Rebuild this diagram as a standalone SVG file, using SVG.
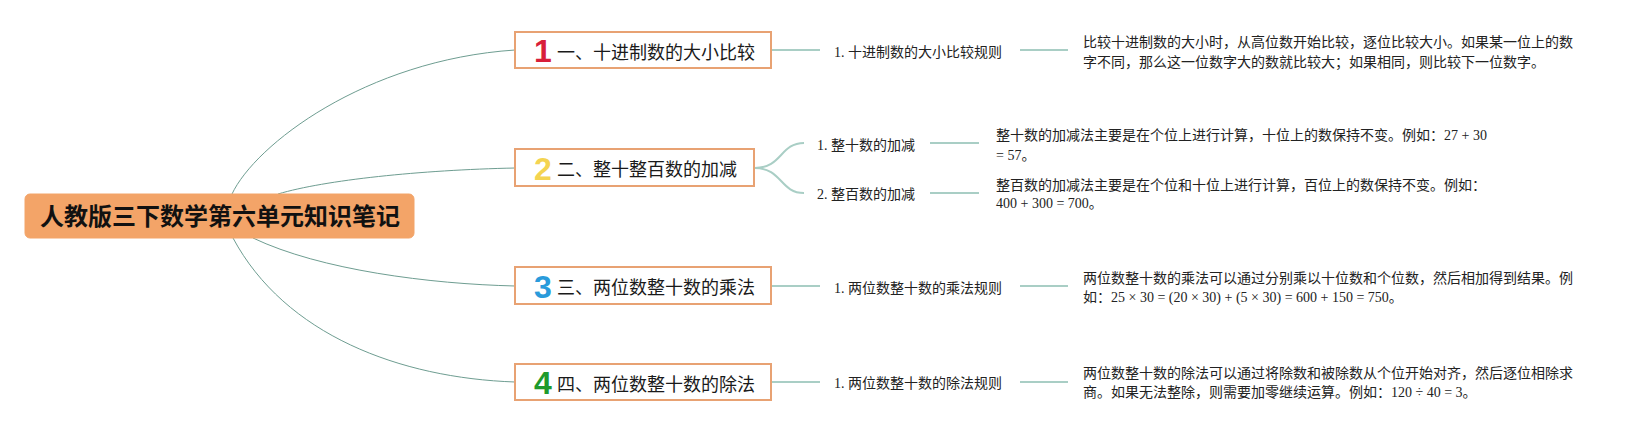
<svg xmlns="http://www.w3.org/2000/svg" width="1643" height="432" viewBox="0 0 1643 432">
<style>
.bg{fill:#ffffff}
.root{fill:#F3A468;stroke:#F3A468}
.roottxt{font-family:"Noto Sans CJK SC",sans-serif;font-weight:bold;font-size:24px;fill:#111}
.node{fill:#ffffff;stroke:#E8A273;stroke-width:2}
.ntxt{font-family:"Noto Sans CJK SC",sans-serif;font-size:18px;fill:#1a1a1a}
.num{font-family:"Liberation Sans","Noto Sans",sans-serif;font-weight:bold;font-size:32px;text-anchor:middle}
.sub{font-family:"Liberation Serif","Noto Sans CJK SC",serif;font-size:14px;fill:#222}
.body{font-family:"Liberation Serif","Noto Sans CJK SC",serif;font-size:14px;fill:#222}
.c1{fill:none;stroke:#6E9D91;stroke-width:1}
.c2{fill:none;stroke:#A9CEC5;stroke-width:2}
</style>
<rect class="bg" x="0" y="0" width="1643" height="432"/>
<g id="connectors">
<path class="c1" d="M232,194 C255,145 365,60 515,50"/>
<path class="c1" d="M278,194 C325,180 420,170 515,168"/>
<path class="c1" d="M253,238 C320,270 430,284 515,286"/>
<path class="c1" d="M233,238 C285,335 400,378 515,382"/>
<path class="c2" d="M772,50 H820"/>
<path class="c2" d="M1020,50 H1068"/>
<path class="c2" d="M755,168 C782,168 780,143 804,143"/>
<path class="c2" d="M755,168 C782,168 780,193 804,193"/>
<path class="c2" d="M930,143 H979"/>
<path class="c2" d="M930,193 H979"/>
<path class="c2" d="M772,286 H820"/>
<path class="c2" d="M1020,286 H1068"/>
<path class="c2" d="M772,382 H820"/>
<path class="c2" d="M1020,382 H1068"/>
</g>
<g id="root">
<rect class="root" x="25" y="194" width="389" height="44" rx="5"/>
<text class="roottxt" x="220" y="225" text-anchor="middle">人教版三下数学第六单元知识笔记</text>
</g>
<g id="n1">
<rect class="node" x="515" y="32" width="256" height="36"/>
<text class="num" x="543" y="62" fill="#D81F3A">1</text>
<text class="ntxt" x="557" y="58.5">一、十进制数的大小比较</text>
</g>
<g id="n1s">
<text class="sub" x="834" y="57">1. 十进制数的大小比较规则</text>
</g>
<g id="n1t">
<text class="body" x="1083" y="47">比较十进制数的大小时，从高位数开始比较，逐位比较大小。如果某一位上的数</text>
<text class="body" x="1083" y="67">字不同，那么这一位数字大的数就比较大；如果相同，则比较下一位数字。</text>
</g>
<g id="n2">
<rect class="node" x="515" y="149" width="239" height="37"/>
<text class="num" x="543" y="180" fill="#F4D451">2</text>
<text class="ntxt" x="557" y="176">二、整十整百数的加减</text>
</g>
<g id="n2s1">
<text class="sub" x="817" y="150">1. 整十数的加减</text>
</g>
<g id="n2t1">
<text class="body" x="996" y="140">整十数的加减法主要是在个位上进行计算，十位上的数保持不变。例如：27 + 30</text>
<text class="body" x="996" y="160">= 57。</text>
</g>
<g id="n2s2">
<text class="sub" x="817" y="199">2. 整百数的加减</text>
</g>
<g id="n2t2">
<text class="body" x="996" y="190">整百数的加减法主要是在个位和十位上进行计算，百位上的数保持不变。例如：</text>
<text class="body" x="996" y="208">400 + 300 = 700。</text>
</g>
<g id="n3">
<rect class="node" x="515" y="267" width="256" height="37"/>
<text class="num" x="543" y="298" fill="#2A9BDB">3</text>
<text class="ntxt" x="557" y="294">三、两位数整十数的乘法</text>
</g>
<g id="n3s">
<text class="sub" x="834" y="293">1. 两位数整十数的乘法规则</text>
</g>
<g id="n3t">
<text class="body" x="1083" y="283">两位数整十数的乘法可以通过分别乘以十位数和个位数，然后相加得到结果。例</text>
<text class="body" x="1083" y="302">如：25 × 30 = (20 × 30) + (5 × 30) = 600 + 150 = 750。</text>
</g>
<g id="n4">
<rect class="node" x="515" y="364" width="256" height="36"/>
<text class="num" x="543" y="394" fill="#1F9A2C">4</text>
<text class="ntxt" x="557" y="390.5">四、两位数整十数的除法</text>
</g>
<g id="n4s">
<text class="sub" x="834" y="388">1. 两位数整十数的除法规则</text>
</g>
<g id="n4t">
<text class="body" x="1083" y="378">两位数整十数的除法可以通过将除数和被除数从个位开始对齐，然后逐位相除求</text>
<text class="body" x="1083" y="397">商。如果无法整除，则需要加零继续运算。例如：120 ÷ 40 = 3。</text>
</g>
</svg>
